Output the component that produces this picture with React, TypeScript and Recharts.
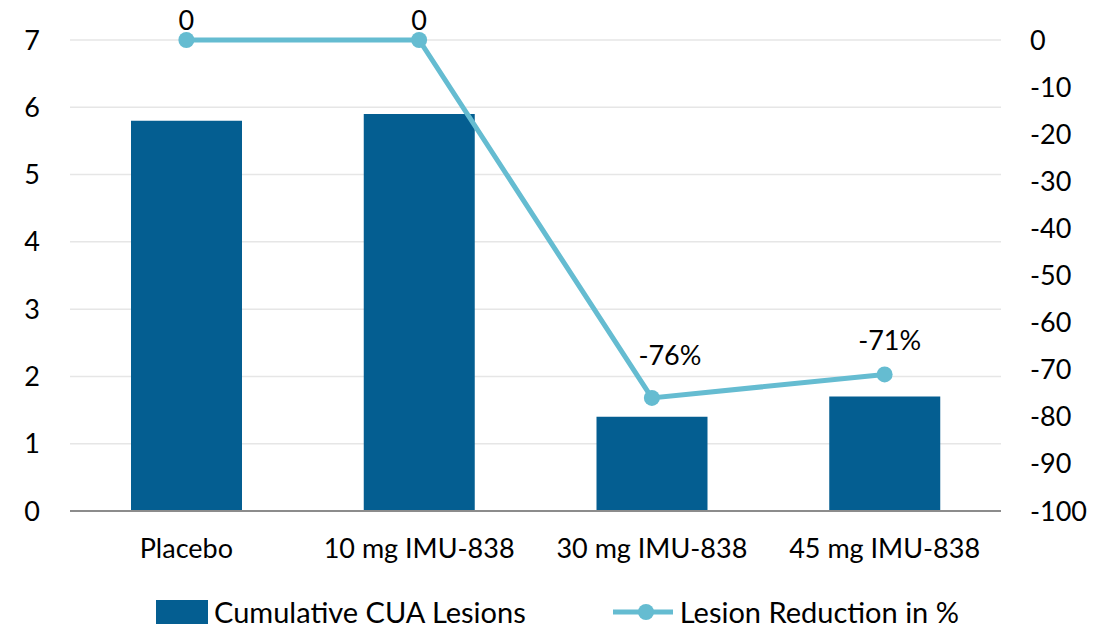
import React from "react";
import { Bar, CartesianGrid, ComposedChart, LabelList, Legend, Line, XAxis, YAxis } from "recharts";

const categories = ["Placebo", "10 mg IMU-838", "30 mg IMU-838", "45 mg IMU-838"];
const cumulativeLesions = [5.8, 5.9, 1.4, 1.7];
const lesionReduction = [0, 0, -76, -71];
const leftTicks = [0, 1, 2, 3, 4, 5, 6, 7];
const rightTicks = [0, -10, -20, -30, -40, -50, -60, -70, -80, -90, -100];

const BAR_COLOR = "#045E91";
const LINE_COLOR = "#65BCD1";
const FONT = "Lato, 'Open Sans', sans-serif";

const chartData = categories.map((name, i) => ({
  name,
  lesions: cumulativeLesions[i],
  reduction: lesionReduction[i],
}));

// label nudges so the text sits clear of the line, like the original
const labelNudge = [
  { dx: 0, dy: -10 },
  { dx: 0, dy: -10 },
  { dx: 18, dy: -33 },
  { dx: 5, dy: -24 },
];

const renderLineLabel = (props: any) => {
  const { x, y, value, index } = props;
  const n = labelNudge[index] || { dx: 0, dy: -10 };
  const text = value === 0 ? "0" : `${value}%`;
  return (
    <text x={x + n.dx} y={y + n.dy} textAnchor="middle" fill="#000" fontSize={27} fontFamily={FONT}>
      {text}
    </text>
  );
};

const renderLegend = () => (
  <div
    style={{
      display: "flex",
      justifyContent: "center",
      alignItems: "center",
      gap: 87,
      fontFamily: FONT,
      fontSize: 29,
      lineHeight: "32px",
      color: "#000",
    }}
  >
    <div style={{ display: "flex", alignItems: "center" }}>
      <span style={{ display: "inline-block", width: 52, height: 24, background: BAR_COLOR, marginRight: 6 }} />
      <span>Cumulative CUA Lesions</span>
    </div>
    <div style={{ display: "flex", alignItems: "center" }}>
      <svg width={60} height={24} style={{ marginRight: 7 }}>
        <line x1={0} y1={12} x2={60} y2={12} stroke={LINE_COLOR} strokeWidth={5} />
        <circle cx={33} cy={12} r={8} fill={LINE_COLOR} />
      </svg>
      <span>Lesion Reduction in %</span>
    </div>
  </div>
);

export default function App() {
  return (
    <div style={{ margin: -8, width: 1115, height: 632, background: "#fff", overflow: "hidden" }}>
      <ComposedChart
        width={1115}
        height={632}
        data={chartData}
        margin={{ top: 40, right: 0, left: 0, bottom: 0 }}
      >
        <CartesianGrid yAxisId="left" vertical={false} stroke="#E6E6E6" strokeWidth={1.5} />
        <XAxis
          dataKey="name"
          axisLine={{ stroke: "#8C8C8C", strokeWidth: 2 }}
          tickLine={false}
          tickSize={0}
          tickMargin={28}
          height={71}
          tick={{ fill: "#000", fontSize: 27, fontFamily: FONT }}
        />
        <YAxis
          yAxisId="left"
          orientation="left"
          domain={[0, 7]}
          ticks={leftTicks}
          width={70}
          axisLine={false}
          tickLine={false}
          tickSize={0}
          tickMargin={30}
          tick={{ fill: "#000", fontSize: 27, fontFamily: FONT }}
        />
        <YAxis
          yAxisId="right"
          orientation="right"
          domain={[-100, 0]}
          ticks={rightTicks}
          width={114}
          axisLine={false}
          tickLine={false}
          tickSize={0}
          tickMargin={29}
          tick={{ fill: "#000", fontSize: 27, fontFamily: FONT, textAnchor: "start" }}
        />
        <Legend verticalAlign="bottom" content={renderLegend} wrapperStyle={{ height: 50, bottom: -14 }} />
        <Bar
          yAxisId="left"
          dataKey="lesions"
          name="Cumulative CUA Lesions"
          fill={BAR_COLOR}
          barSize={111}
          isAnimationActive={false}
        />
        <Line
          yAxisId="right"
          dataKey="reduction"
          name="Lesion Reduction in %"
          stroke={LINE_COLOR}
          strokeWidth={5}
          dot={{ r: 8, fill: LINE_COLOR, stroke: LINE_COLOR, strokeWidth: 0 }}
          activeDot={false}
          isAnimationActive={false}
        >
          <LabelList dataKey="reduction" content={renderLineLabel} />
        </Line>
      </ComposedChart>
    </div>
  );
}
